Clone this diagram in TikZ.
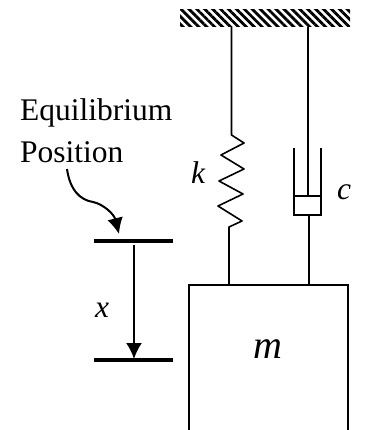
\documentclass[tikz,border=0pt]{standalone}
\usepackage{fontspec}
\setmainfont{Liberation Serif}
\usetikzlibrary{arrows.meta,patterns.meta}

\tikzset{
  member/.style   = {draw, line width=1.6pt},
  wall/.style     = {pattern={Lines[angle=-45,distance=5.6pt,line width=2.8pt]}},
  level/.style    = {draw, line width=3.6pt},
  pointer/.style  = {draw, line width=2pt, -{Latex[length=16pt,width=16pt]}},
  caption/.style  = {font=\fontsize{31.5}{36}\selectfont, inner sep=0pt, anchor=base west},
  symbol/.style   = {caption, font=\fontsize{31.5}{36}\selectfont\itshape},
  masslabel/.style = {caption, font=\fontsize{40}{44}\selectfont\itshape}
}

\begin{document}
\begin{tikzpicture}[x=1pt,y=-1pt]
\useasboundingbox (0,0) rectangle (368,430);

% support
\node[wall, minimum width=170pt, minimum height=17pt, inner sep=0pt] (support) at (265,18.5) {};

% spring
\coordinate (springtop) at (231.5,27);
\coordinate (springin) at (231.5,135);
\coordinate (springout) at (229,227);
\coordinate (springend) at (229,285);
\draw[member, line join=round] (springtop) -- (springin) -- (244,143) -- (221,155) -- (244,169)
  -- (219,181) -- (243,194) -- (218,206) -- (242,221) -- (springout) -- (springend);

% damper
\coordinate (rodtop) at (308,27);
\coordinate (piston) at (308,196);
\coordinate (rodlow) at (309,215);
\coordinate (rodend) at (309,285);
\coordinate (potleft) at (294,148);
\coordinate (potright) at (321,148);
\coordinate (potbl) at (294,215);
\coordinate (potbr) at (321,215);
\coordinate (capl) at (294,196);
\coordinate (capr) at (321,196);
\draw[member] (rodtop) -- (piston);
\draw[member] (potleft) -- (potbl) -- (potbr) -- (potright);
\draw[member] (capl) -- (capr);
\draw[member] (rodlow) -- (rodend);

% mass
\coordinate (massbl) at (189,430);
\coordinate (masstl) at (189,285);
\coordinate (masstr) at (348,285);
\coordinate (massbr) at (348,430);
\draw[member] (massbl) -- (masstl) -- (masstr) -- (massbr);
\node[masslabel] (mass) at (253,358) {m};

% labels
\node[symbol] (stiff) at (191,183) {k};
\node[symbol] (damp) at (337,200) {c};
\node[symbol] (disp) at (95,317) {x};
\node[caption] (eqone) at (20,121) {Equilibrium};
\node[caption] (eqtwo) at (20,163) {Position};

% displacement
\coordinate (eqleft) at (94,241);
\coordinate (eqright) at (173,241);
\coordinate (newleft) at (94,360);
\coordinate (newright) at (173,360);
\coordinate (dispstart) at (134,245);
\coordinate (dispend) at (134,359);
\coordinate (bendstart) at (67,169);
\coordinate (bendend) at (119,234);
\draw[level] (eqleft) -- (eqright);
\draw[level] (newleft) -- (newright);
\draw[pointer] (dispstart) -- (dispend);
\draw[pointer] (bendstart) .. controls (70,190) and (80,200) .. (93,202)
  .. controls (103,204) and (114,214) .. (bendend);
\end{tikzpicture}
\end{document}
